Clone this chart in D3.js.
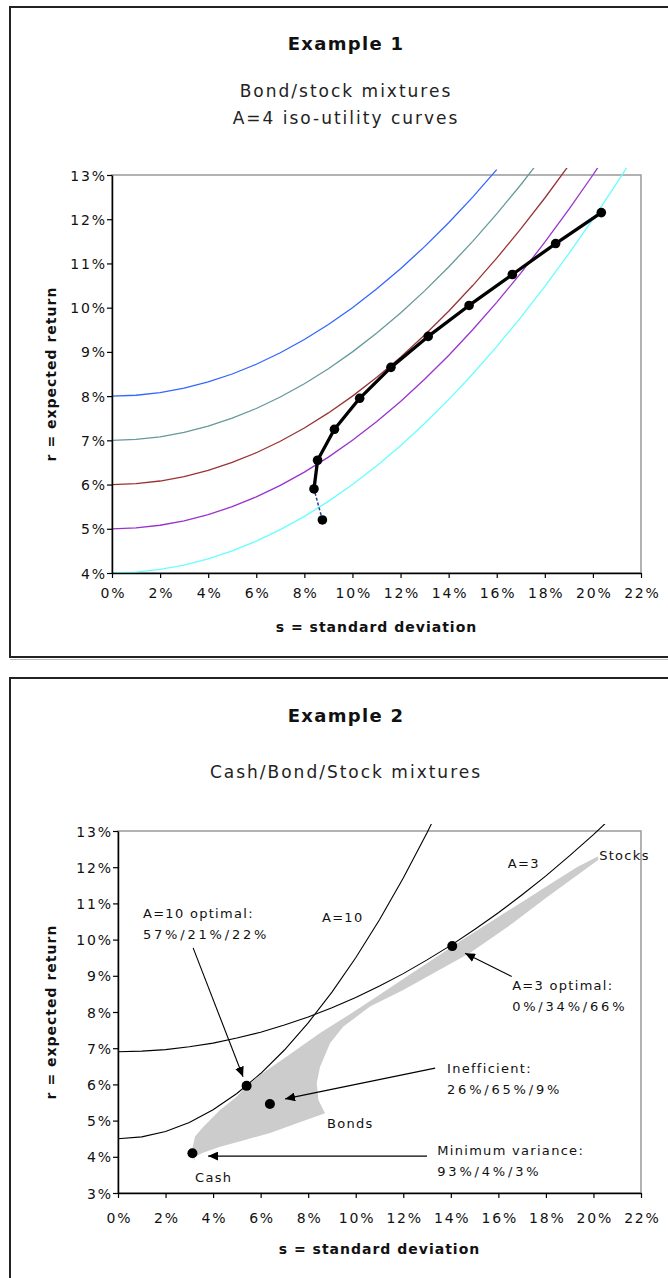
<!DOCTYPE html>
<html>
<head>
<meta charset="utf-8">
<script src="https://cdn.jsdelivr.net/npm/d3@7/dist/d3.min.js"></script>
<style>
body { margin: 0; background: #fff; }
svg { display: block; font-family: "DejaVu Sans", sans-serif; }
.tick text { font-size: 14px; letter-spacing: 1.8px; fill: #111; }
.title { font-size: 18px; font-weight: bold; letter-spacing: 1.3px; fill: #111; }
.subtitle { font-size: 17px; letter-spacing: 2px; fill: #222; }
.axis-title { font-size: 14px; font-weight: bold; letter-spacing: 1px; fill: #111; }
.note { font-size: 13px; letter-spacing: 1.3px; fill: #111; }
.note.num { letter-spacing: 2.8px; }
</style>
</head>
<body>
<svg id="chart" width="668" height="1278"></svg>
<script>
// ---------- Example 1 : bond/stock mixtures, A=4 iso-utility curves ----------
var sGrid = [0, 1, 2, 3, 4, 5, 6, 7, 8, 9, 10, 11, 12, 13, 14, 15, 16, 17, 18, 19, 20, 21, 22];
var isoU8 = [8.0, 8.02, 8.08, 8.18, 8.32, 8.5, 8.72, 8.98, 9.28, 9.62, 10.0, 10.42, 10.88, 11.38, 11.92, 12.5, 13.12];
var isoU7 = [7.0, 7.02, 7.08, 7.18, 7.32, 7.5, 7.72, 7.98, 8.28, 8.62, 9.0, 9.42, 9.88, 10.38, 10.92, 11.5, 12.12, 12.78, 13.48];
var isoU6 = [6.0, 6.02, 6.08, 6.18, 6.32, 6.5, 6.72, 6.98, 7.28, 7.62, 8.0, 8.42, 8.88, 9.38, 9.92, 10.5, 11.12, 11.78, 12.48, 13.22];
var isoU5 = [5.0, 5.02, 5.08, 5.18, 5.32, 5.5, 5.72, 5.98, 6.28, 6.62, 7.0, 7.42, 7.88, 8.38, 8.92, 9.5, 10.12, 10.78, 11.48, 12.22, 13.0, 13.82];
var isoU4 = [4.0, 4.02, 4.08, 4.18, 4.32, 4.5, 4.72, 4.98, 5.28, 5.62, 6.0, 6.42, 6.88, 7.38, 7.92, 8.5, 9.12, 9.78, 10.48, 11.22, 12.0, 12.82, 13.68];
var isoColors1 = ['#3366ff', '#669999', '#993333', '#9933cc', '#66ffff'];

// bond/stock mixtures, 100% bonds first
var mixS = [8.75, 8.4, 8.55, 9.25, 10.3, 11.6, 13.15, 14.85, 16.65, 18.45, 20.35];
var mixR = [5.2, 5.9, 6.55, 7.25, 7.95, 8.65, 9.35, 10.05, 10.75, 11.45, 12.15];

var xTicks = [0, 2, 4, 6, 8, 10, 12, 14, 16, 18, 20, 22];
var yTicks1 = [4, 5, 6, 7, 8, 9, 10, 11, 12, 13];

// ---------- Example 2 : cash/bond/stock mixtures ----------
var isoA10 = [4.5, 4.55, 4.7, 4.95, 5.3, 5.75, 6.3, 6.95, 7.7, 8.55, 9.5, 10.55, 11.7, 12.95, 14.3];
var isoA3 = [6.9, 6.92, 6.96, 7.04, 7.14, 7.28, 7.44, 7.64, 7.86, 8.12, 8.4, 8.72, 9.06, 9.44, 9.84, 10.28, 10.74, 11.24, 11.76, 12.32, 12.9, 13.52];

// feasible region edges
var upperS = [3.2, 3.12, 3.24, 3.59, 4.29, 4.99, 5.41, 5.97, 7.1, 8.5, 9.9, 11.05, 12.2, 13.35, 14.5, 15.7, 16.9, 18.1, 19.3, 20.2];
var upperR = [3.88, 4.2, 4.56, 4.83, 5.29, 5.66, 5.96, 6.26, 6.77, 7.42, 8.0, 8.5, 9.0, 9.5, 10.0, 10.5, 11.0, 11.5, 12.0, 12.3];
var bondStockS = [20.2, 19.4, 18.0, 16.6, 14.8, 12.0, 10.6, 9.47, 8.92, 8.5, 8.36, 8.43, 8.71];
var bondStockR = [12.2, 11.82, 11.15, 10.45, 9.63, 8.61, 8.15, 7.59, 7.14, 6.49, 6.04, 5.57, 5.2];
var cashBondS = [8.71, 7.5, 6.4, 5.3, 4.3, 3.6, 3.24];
var cashBondR = [5.2, 4.92, 4.66, 4.46, 4.28, 4.12, 4.0];

// marked portfolios: cash, A=10 optimal, inefficient, A=3 optimal
var pointS = [3.13, 5.41, 6.39, 14.06];
var pointR = [4.1, 5.96, 5.46, 9.82];
var yTicks2 = [3, 4, 5, 6, 7, 8, 9, 10, 11, 12, 13];

var notes = [
  { lines: ['A=10 optimal:', '57%/21%/22%'], s: 1.05, r: 10.6 },
  { lines: ['A=10'], s: 8.58, r: 10.49 },
  { lines: ['A=3'], s: 16.4, r: 11.98 },
  { lines: ['Stocks'], s: 20.24, r: 12.2 },
  { lines: ['A=3 optimal:', '0%/34%/66%'], s: 16.58, r: 8.61 },
  { lines: ['Inefficient:', '26%/65%/9%'], s: 13.84, r: 6.31 },
  { lines: ['Bonds'], s: 8.79, r: 4.8 },
  { lines: ['Minimum variance:', '93%/4%/3%'], s: 13.43, r: 4.05 },
  { lines: ['Cash'], s: 3.24, r: 3.3 }
];
var arrows = [
  { from: [3.16, 9.77], to: [5.26, 6.21] },
  { from: [16.56, 8.98], to: [14.6, 9.62] },
  { from: [13.34, 6.45], to: [7.03, 5.6] },
  { from: [13.0, 4.02], to: [3.79, 4.02] }
];

var svg = d3.select('#chart');
var pct = function (d) { return d + '%'; };

svg.append('defs').append('marker')
  .attr('id', 'head')
  .attr('markerUnits', 'userSpaceOnUse')
  .attr('markerWidth', 11).attr('markerHeight', 9)
  .attr('refX', 10).attr('refY', 4.5)
  .attr('orient', 'auto')
  .append('path').attr('d', 'M0,0 L10,4.5 L0,9 Z').attr('fill', '#000');

function frame(y, h) {
  svg.append('rect').attr('x', 10).attr('y', y).attr('width', 700).attr('height', h)
    .attr('fill', 'none').attr('stroke', '#222').attr('stroke-width', 2);
}

function plotBox(box, yDomain, clipId) {
  var x = d3.scaleLinear().domain([0, 22]).range([box.left, box.right]);
  var y = d3.scaleLinear().domain(yDomain).range([box.bottom, box.top]);
  svg.append('clipPath').attr('id', clipId).append('rect')
    .attr('x', box.left).attr('y', box.top - 7)
    .attr('width', box.right - box.left).attr('height', box.bottom - box.top + 7);
  svg.append('rect').attr('x', box.left).attr('y', box.top)
    .attr('width', box.right - box.left).attr('height', box.bottom - box.top)
    .attr('fill', '#fff').attr('stroke', '#999').attr('stroke-width', 1.5);
  return { x: x, y: y };
}

function axes(sc, box, yTicks, labelY, titleY) {
  var ax = svg.append('g').attr('transform', 'translate(0,' + box.bottom + ')')
    .call(d3.axisBottom(sc.x).tickValues(xTicks).tickFormat(pct).tickSize(5).tickSizeOuter(0));
  ax.selectAll('text').attr('y', labelY - box.bottom).attr('dy', 0).attr('dx', 0.9);
  var ay = svg.append('g').attr('transform', 'translate(' + box.left + ',0)')
    .call(d3.axisLeft(sc.y).tickValues(yTicks).tickFormat(pct).tickSize(5).tickSizeOuter(0));
  ay.selectAll('text').attr('x', -7).attr('dx', 1.8).attr('dy', '0.36em');
  [ax, ay].forEach(function (g) {
    g.select('.domain').attr('stroke', '#000').attr('stroke-width', 1.5);
    g.selectAll('.tick line').attr('stroke', '#000').attr('stroke-width', 1.2);
    g.attr('font-family', null).attr('font-size', null);
  });
  svg.append('text').attr('class', 'axis-title').attr('text-anchor', 'middle')
    .attr('x', (box.left + box.right) / 2).attr('y', titleY).text('s = standard deviation');
  svg.append('text').attr('class', 'axis-title').attr('text-anchor', 'middle')
    .attr('transform', 'translate(56,' + (box.top + box.bottom) / 2 + ') rotate(-90)')
    .text('r = expected return');
}

// ================= Example 1 =================
frame(7, 650);
svg.append('line').attr('x1', 10).attr('x2', 668).attr('y1', 659.5).attr('y2', 659.5)
  .attr('stroke', '#bbb').attr('stroke-width', 1);
svg.append('text').attr('class', 'title').attr('text-anchor', 'middle').attr('x', 346).attr('y', 50).text('Example 1');
svg.append('text').attr('class', 'subtitle').attr('text-anchor', 'middle').attr('x', 346).attr('y', 97).text('Bond/stock mixtures');
svg.append('text').attr('class', 'subtitle').attr('text-anchor', 'middle').attr('x', 346).attr('y', 124).text('A=4 iso-utility curves');

var box1 = { left: 112, right: 641, top: 175, bottom: 573 };
var sc1 = plotBox(box1, [4, 13], 'clip1');
var line1 = d3.line().x(function (d) { return sc1.x(d[0]); }).y(function (d) { return sc1.y(d[1]); });

var g1 = svg.append('g').attr('clip-path', 'url(#clip1)');
[isoU8, isoU7, isoU6, isoU5, isoU4].forEach(function (ser, i) {
  g1.append('path')
    .datum(ser.map(function (r, k) { return [sGrid[k], r]; }))
    .attr('d', line1).attr('fill', 'none')
    .attr('stroke', isoColors1[i]).attr('stroke-width', 1.3);
});
axes(sc1, box1, yTicks1, 598, 632);

var mix = mixS.map(function (s, i) { return [s, mixR[i]]; });
svg.append('path').datum(mix.slice(0, 2)).attr('d', line1).attr('fill', 'none')
  .attr('stroke', '#1f3fa0').attr('stroke-width', 1.5).attr('stroke-dasharray', '3,2');
svg.append('path').datum(mix.slice(1)).attr('d', line1).attr('fill', 'none')
  .attr('stroke', '#000').attr('stroke-width', 3.3).attr('stroke-linejoin', 'round');
svg.append('g').selectAll('circle').data(mix).enter().append('circle')
  .attr('cx', function (d) { return sc1.x(d[0]); })
  .attr('cy', function (d) { return sc1.y(d[1]); })
  .attr('r', 4.8).attr('fill', '#000');

// ================= Example 2 =================
frame(678, 700);
svg.append('text').attr('class', 'title').attr('text-anchor', 'middle').attr('x', 346).attr('y', 722).text('Example 2');
svg.append('text').attr('class', 'subtitle').attr('text-anchor', 'middle').attr('x', 346).attr('y', 778).text('Cash/Bond/Stock mixtures');

var box2 = { left: 118, right: 641, top: 831, bottom: 1193 };
var sc2 = plotBox(box2, [3, 13], 'clip2');
var line2 = d3.line().x(function (d) { return sc2.x(d[0]); }).y(function (d) { return sc2.y(d[1]); });

var g2 = svg.append('g').attr('clip-path', 'url(#clip2)');
[isoA10, isoA3].forEach(function (ser) {
  g2.append('path')
    .datum(ser.map(function (r, k) { return [sGrid[k], r]; }))
    .attr('d', line2).attr('fill', 'none').attr('stroke', '#000').attr('stroke-width', 1.1);
});

var region = []
  .concat(upperS.map(function (s, i) { return [s, upperR[i]]; }))
  .concat(bondStockS.map(function (s, i) { return [s, bondStockR[i]]; }))
  .concat(cashBondS.map(function (s, i) { return [s, cashBondR[i]]; }));
svg.append('path').datum(region).attr('d', function (d) { return line2(d) + 'Z'; })
  .attr('fill', '#cccccc').attr('stroke', 'none');

axes(sc2, box2, yTicks2, 1223, 1254);

svg.append('g').selectAll('circle').data(pointS).enter().append('circle')
  .attr('cx', function (d) { return sc2.x(d); })
  .attr('cy', function (d, i) { return sc2.y(pointR[i]); })
  .attr('r', 5).attr('fill', '#000');

svg.append('g').selectAll('line').data(arrows).enter().append('line')
  .attr('x1', function (d) { return sc2.x(d.from[0]); })
  .attr('y1', function (d) { return sc2.y(d.from[1]); })
  .attr('x2', function (d) { return sc2.x(d.to[0]); })
  .attr('y2', function (d) { return sc2.y(d.to[1]); })
  .attr('stroke', '#000').attr('stroke-width', 1.1)
  .attr('marker-end', 'url(#head)');

notes.forEach(function (n) {
  n.lines.forEach(function (t, i) {
    svg.append('text')
      .attr('class', /\d%/.test(t) ? 'note num' : 'note')
      .attr('x', sc2.x(n.s)).attr('y', sc2.y(n.r) + i * 21)
      .text(t);
  });
});
</script>
</body>
</html>
